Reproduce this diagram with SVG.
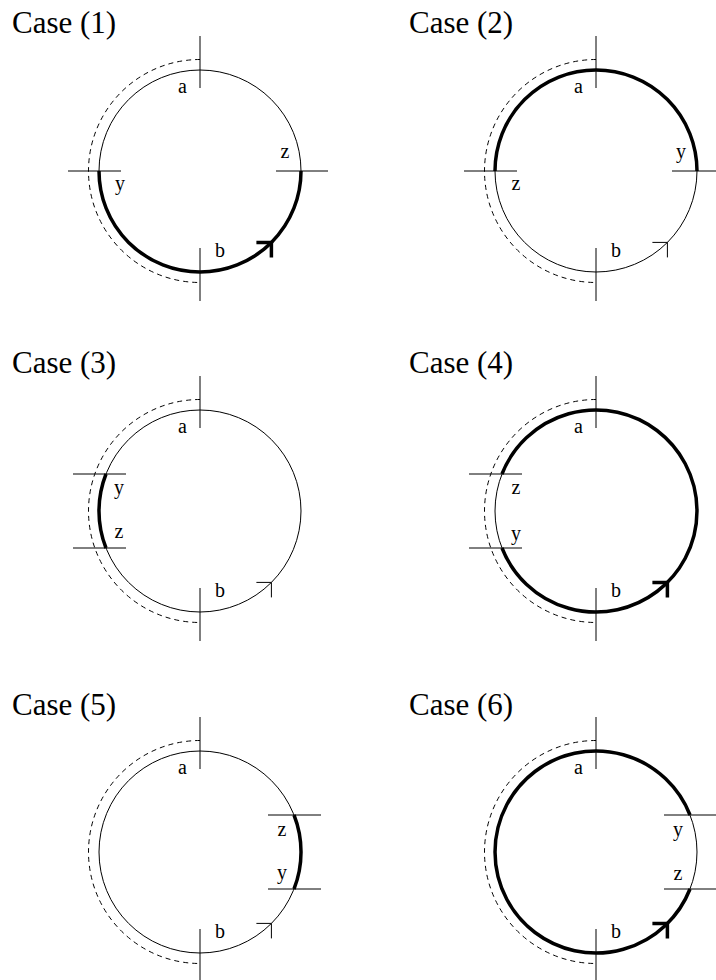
<svg xmlns="http://www.w3.org/2000/svg" width="716" height="980" viewBox="0 0 716 980">
<style>
.bg{fill:#fff}
.c{fill:none;stroke:#000;stroke-width:1}
.t{fill:none;stroke:#000;stroke-width:1}
.k{fill:none;stroke:#000;stroke-width:3.5}
.d{fill:none;stroke:#000;stroke-width:1;stroke-dasharray:5 4}
.title{font-family:"Liberation Serif","Times New Roman",serif;font-size:31px;fill:#000}
.lb{font-family:"Liberation Serif","Times New Roman",serif;font-size:20px;fill:#000;text-anchor:middle}
</style>
<defs>
<g id="base">
<circle class="c" cx="0" cy="0" r="101"/>
<path class="d" d="M0,-111.5 A111.5,111.5 0 0 0 0,111.5"/>
<line class="t" x1="0" y1="-135" x2="0" y2="-83"/>
<line class="t" x1="0" y1="77" x2="0" y2="130"/>
</g>
</defs>
<rect class="bg" x="0" y="0" width="716" height="980"/>

<g id="case1" transform="translate(200,171)">
<text class="title" x="-188" y="-138">Case (1)</text>
<use href="#base"/>
<line class="t" x1="-132" y1="0" x2="-79" y2="0"/>
<line class="t" x1="76" y1="0" x2="128" y2="0"/>
<path class="k" d="M-101,0 A101,101 0 0 0 101,0"/>
<path class="k" d="M56.4,71.4 H71.4 V86.4"/>
<text class="lb" x="-17.5" y="-78">a</text>
<text class="lb" x="20" y="86">b</text>
<text class="lb" x="85" y="-13">z</text>
<text class="lb" x="-80" y="19">y</text>
</g>

<g id="case2" transform="translate(596,171)">
<text class="title" x="-187" y="-138">Case (2)</text>
<use href="#base"/>
<line class="t" x1="-132" y1="0" x2="-79" y2="0"/>
<line class="t" x1="76" y1="0" x2="128" y2="0"/>
<path class="k" d="M-101,0 A101,101 0 0 1 101,0"/>
<path class="c" d="M56.4,71.4 H71.4 V86.4"/>
<text class="lb" x="-17.5" y="-78">a</text>
<text class="lb" x="20" y="86">b</text>
<text class="lb" x="85" y="-13">y</text>
<text class="lb" x="-80" y="19">z</text>
</g>

<g id="case3" transform="translate(200,511)">
<text class="title" x="-188" y="-138">Case (3)</text>
<use href="#base"/>
<line class="t" x1="-127" y1="-37" x2="-74" y2="-37"/>
<line class="t" x1="-127" y1="37" x2="-74" y2="37"/>
<path class="k" d="M-94,-37 A101,101 0 0 0 -94,37"/>
<path class="c" d="M56.4,71.4 H71.4 V86.4"/>
<text class="lb" x="-17.5" y="-78">a</text>
<text class="lb" x="20" y="86">b</text>
<text class="lb" x="-81" y="-17">y</text>
<text class="lb" x="-81" y="27">z</text>
</g>

<g id="case4" transform="translate(596,511)">
<text class="title" x="-187" y="-138">Case (4)</text>
<use href="#base"/>
<line class="t" x1="-127" y1="-37" x2="-74" y2="-37"/>
<line class="t" x1="-127" y1="37" x2="-74" y2="37"/>
<path class="k" d="M-94,-37 A101,101 0 1 1 -94,37"/>
<path class="k" d="M56.4,71.4 H71.4 V86.4"/>
<text class="lb" x="-17.5" y="-78">a</text>
<text class="lb" x="20" y="86">b</text>
<text class="lb" x="-80" y="-17">z</text>
<text class="lb" x="-80" y="29">y</text>
</g>

<g id="case5" transform="translate(200,852)">
<text class="title" x="-188" y="-137.5">Case (5)</text>
<use href="#base"/>
<line class="t" x1="68" y1="-37" x2="121" y2="-37"/>
<line class="t" x1="68" y1="37" x2="121" y2="37"/>
<path class="k" d="M94,-37 A101,101 0 0 1 94,37"/>
<path class="c" d="M56.4,71.4 H71.4 V86.4"/>
<text class="lb" x="-17.5" y="-78">a</text>
<text class="lb" x="20" y="86">b</text>
<text class="lb" x="82" y="-16">z</text>
<text class="lb" x="82" y="27">y</text>
</g>

<g id="case6" transform="translate(596,852)">
<text class="title" x="-187" y="-137.5">Case (6)</text>
<use href="#base"/>
<line class="t" x1="68" y1="-37" x2="121" y2="-37"/>
<line class="t" x1="68" y1="37" x2="121" y2="37"/>
<path class="k" d="M94,-37 A101,101 0 1 0 94,37"/>
<path class="k" d="M56.4,71.4 H71.4 V86.4"/>
<text class="lb" x="-17.5" y="-78">a</text>
<text class="lb" x="20" y="86">b</text>
<text class="lb" x="82" y="-16">y</text>
<text class="lb" x="82" y="28">z</text>
</g>
</svg>
